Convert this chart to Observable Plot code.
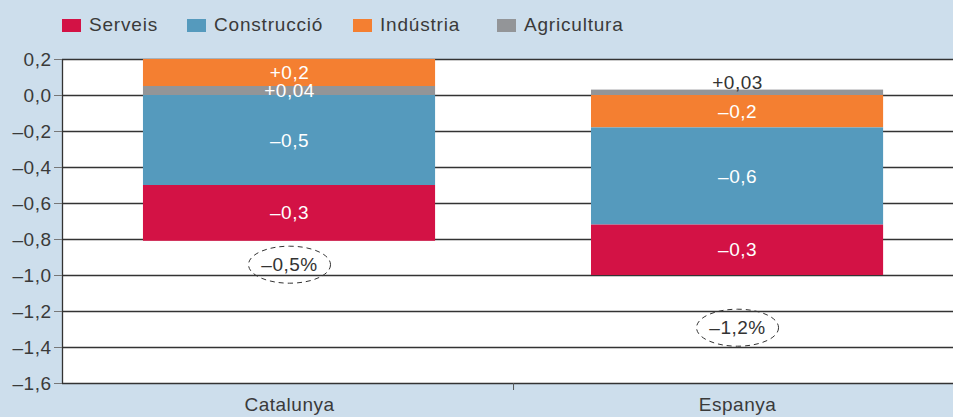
<!DOCTYPE html>
<html><head><meta charset="utf-8">
<script src="https://cdn.jsdelivr.net/npm/d3@7"></script>
<script src="https://cdn.jsdelivr.net/npm/@observablehq/plot@0.6"></script>
<style>
body{margin:0;background:#cddeec;font-family:"Liberation Sans",Arial,sans-serif;}
#legend{height:46px;position:relative;}
.item{position:absolute;top:15px;display:flex;align-items:center;font-size:19px;color:#3a3a3a;letter-spacing:0.8px;line-height:20px}
.sw{width:19px;height:13px;margin-right:8px}
svg{display:block}
</style></head><body>
<div id="legend"></div><div id="chart"></div>
<script>
// ---- data ----
const regions = ["Catalunya", "Espanya"];
const sectors = ["Agricultura", "Indústria", "Construcció", "Serveis"]; // stacking order
const legendOrder = ["Serveis", "Construcció", "Indústria", "Agricultura"];
const sectorColors = ["#939598", "#f47f31", "#559abd", "#d31245"];
const catalunyaValues = [0.05, 0.15, -0.50, -0.31];
const espanyaValues = [0.03, -0.18, -0.54, -0.28];
const catalunyaLabels = ["+0,04", "+0,2", "–0,5", "–0,3"];
const espanyaLabels = ["+0,03", "–0,2", "–0,6", "–0,3"];
const totalLabels = ["–0,5%", "–1,2%"];
const totalLabelY = [-0.94, -1.29];
const yTicks = [0.2, 0, -0.2, -0.4, -0.6, -0.8, -1.0, -1.2, -1.4, -1.6];
const legendLeft = [62, 187, 353, 497];

// ---- build table ----
const values = [catalunyaValues, espanyaValues];
const labels = [catalunyaLabels, espanyaLabels];
const data = [];
regions.forEach((r, i) => sectors.forEach((s, j) => data.push({
  region: r, pos: i + 0.5, sector: s, value: values[i][j], label: labels[i][j]
})));
const totals = regions.map((r, i) => ({region: r, pos: i + 0.5, y: totalLabelY[i], label: totalLabels[i]}));

// legend
const lg = document.getElementById("legend");
legendOrder.forEach((s, i) => {
  const it = document.createElement("div");
  it.className = "item";
  it.style.left = legendLeft[i] + "px";
  const sw = document.createElement("div");
  sw.className = "sw";
  sw.style.background = sectorColors[sectors.indexOf(s)];
  it.appendChild(sw);
  it.appendChild(document.createTextNode(s));
  lg.appendChild(it);
});

const halfW = 0.326;
const xDomain = [-0.0067, 1.982];
const fmt = d => (d < -1e-9 ? "–" : "") + Math.abs(d).toFixed(1).replace(".", ",");
const isOutside = d => d.value > 0 && d.value < 0.04;

const ellipse = {draw(ctx) {
  const rx = 41, ry = 18.5, k = 0.5523;
  ctx.moveTo(rx, 0);
  ctx.bezierCurveTo(rx, ry * k, rx * k, ry, 0, ry);
  ctx.bezierCurveTo(-rx * k, ry, -rx, ry * k, -rx, 0);
  ctx.bezierCurveTo(-rx, -ry * k, -rx * k, -ry, 0, -ry);
  ctx.bezierCurveTo(rx * k, -ry, rx, -ry * k, rx, 0);
  ctx.closePath();
}};

const chart = Plot.plot({
  width: 953, height: 371,
  marginTop: 13, marginBottom: 34, marginLeft: 62, marginRight: 0,
  style: {background: "transparent", fontFamily: "Liberation Sans, Arial, sans-serif", fontSize: "19px", color: "#3a3a3a", letterSpacing: "0.5px"},
  x: {domain: xDomain},
  y: {domain: [-1.6, 0.2]},
  color: {domain: sectors, range: sectorColors},
  marks: [
    Plot.frame({fill: "white", stroke: "none"}),
    Plot.gridY(yTicks, {stroke: "#333", strokeOpacity: 1, strokeWidth: 1.3}),
    Plot.rectY(data, Plot.stackY({x1: d => d.pos - halfW, x2: d => d.pos + halfW, y: "value", fill: "sector", order: sectors})),
    Plot.text(data, Plot.stackY({x: "pos", y: "value", z: "sector", order: sectors, text: "label", fill: "white", filter: d => !isOutside(d), dy: 0})),
    Plot.text(data, Plot.stackY2({x: "pos", y: "value", z: "sector", order: sectors, text: "label", fill: "#333", filter: isOutside, lineAnchor: "bottom", dy: -1})),
    Plot.dot(totals, {x: "pos", y: "y", symbol: ellipse, r: 10, stroke: "#333", strokeWidth: 1, strokeDasharray: "5,4", fill: "none"}),
    Plot.text(totals, {x: "pos", y: "y", text: "label", fill: "#333"}),
    Plot.ruleX([xDomain[0]], {stroke: "#333", strokeWidth: 1.3}),
    Plot.axisY(yTicks, {tickFormat: fmt, tickSize: 8, tickPadding: 3, stroke: "#777", fill: "#3a3a3a", label: null}),
    Plot.axisX([0.5, 1.5], {tickFormat: (d, i) => regions[i], tickSize: 0, tickPadding: 14, fill: "#3a3a3a", label: null}),
    Plot.axisX([1], {tickFormat: () => "", tickSize: 7, stroke: "#555", label: null})
  ]
});
document.getElementById("chart").appendChild(chart);
</script>
</body></html>
